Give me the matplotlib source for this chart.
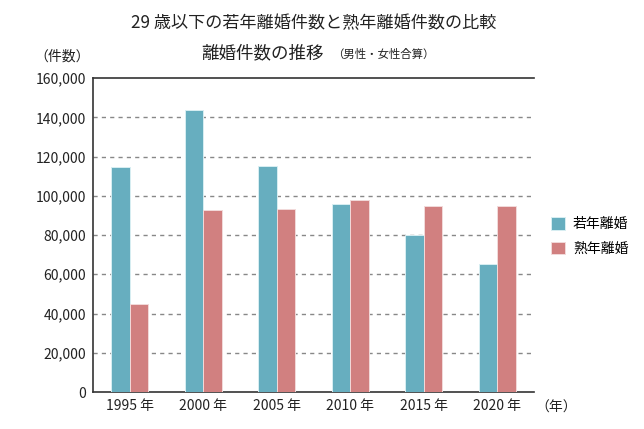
import matplotlib.pyplot as plt
import numpy as np

plt.rcParams['font.family'] = ['Noto Sans CJK JP', 'DejaVu Sans']

years = ['1995 年', '2000 年', '2005 年', '2010 年', '2015 年', '2020 年']
young = [114500, 143700, 115000, 95800, 80200, 65100]
mature = [45000, 92700, 93400, 97800, 94900, 94800]
labels = ['若年離婚', '熟年離婚']
colors = ['#67aebf', '#d18080']

fig = plt.figure(figsize=(6.44, 4.29), dpi=100)
ax = fig.add_axes([0.1444, 0.0862, 0.6846, 0.7318])

x = np.arange(len(years))
w = 0.25
ax.bar(x - w / 2, young, w, color=colors[0], edgecolor='#d8eef2', linewidth=0.7,
       label=labels[0], zorder=3)
ax.bar(x + w / 2, mature, w, color=colors[1], edgecolor='#f2dada', linewidth=0.7,
       label=labels[1], zorder=3)

ax.set_xlim(-0.5, 5.5)
ax.set_ylim(0, 160000)
ax.set_yticks(range(0, 160001, 20000))
ax.set_yticklabels(['0' if v == 0 else f'{v:,}' for v in range(0, 160001, 20000)],
                   fontsize=10, color='#222222')
ax.set_xticks(x)
ax.set_xticklabels(years, fontsize=10, color='#222222')
ax.tick_params(length=0, pad=5)

for v in range(20000, 160000, 20000):
    ax.axhline(v, color='#888888', linewidth=1, linestyle=(0, (3, 3)), zorder=1)

ax.spines['right'].set_visible(False)
for s in ['left', 'bottom', 'top']:
    ax.spines[s].set_color('#333333')
    ax.spines[s].set_linewidth(1.2)

# titles
fig.text(0.4876, 0.946, '29 歳以下の若年離婚件数と熟年離婚件数の比較', ha='center', va='center',
         fontsize=12.3, color='#222222')
fig.text(0.502, 0.876, '離婚件数の推移', ha='right', va='center', fontsize=12.6, color='#222222')
fig.text(0.515, 0.873, '（男性・女性合算）', ha='left', va='center', fontsize=8.2, color='#222222')
fig.text(0.096, 0.867, '（件数）', ha='center', va='center', fontsize=10, color='#222222')
fig.text(0.863, 0.049, '（年）', ha='center', va='center', fontsize=10, color='#222222')

ax.legend(loc='upper left', bbox_to_anchor=(1.01, 0.597), frameon=False, fontsize=10,
          handlelength=1.0, handleheight=1.0, handletextpad=0.6, labelspacing=0.75)

fig.savefig('out.png', dpi=100)
